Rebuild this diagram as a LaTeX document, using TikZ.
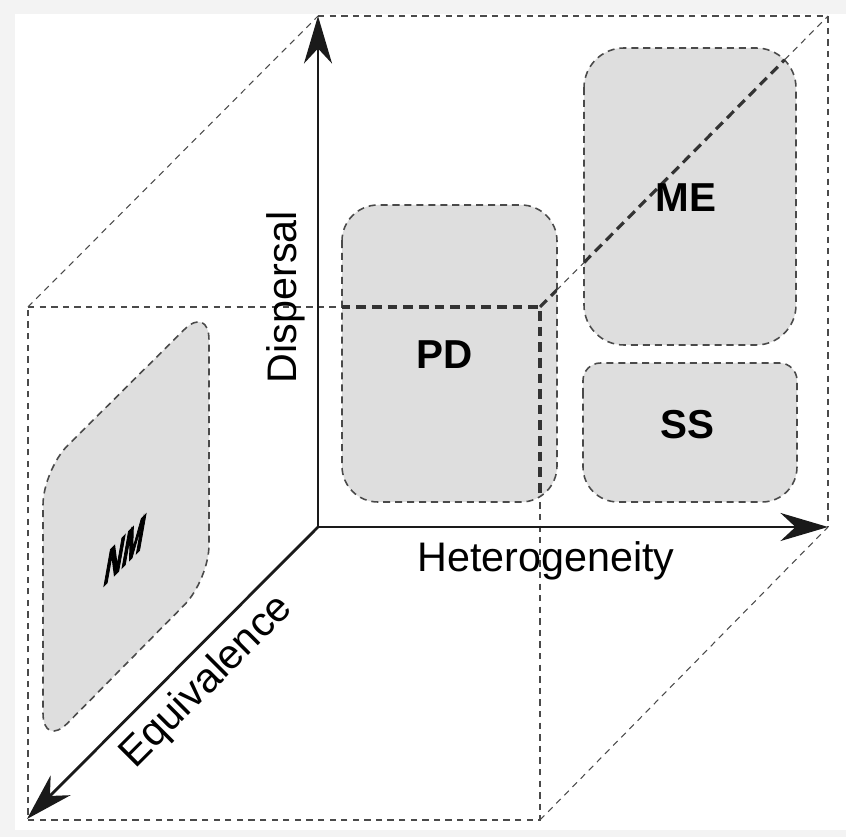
\documentclass[tikz,border=0pt]{standalone}
\usepackage{fontspec}
\setmainfont{Liberation Sans}
\newfontfamily\nmfont{Liberation Sans Bold}[FakeBold=4]
\usepackage{tikz}
\usetikzlibrary{arrows.meta,positioning}
\definecolor{NicheGray}{HTML}{DEDEDE}
\definecolor{NicheEdge}{HTML}{4A4A4A}
\definecolor{NicheDash}{HTML}{333333}
\definecolor{NicheAxis}{HTML}{1A1A1A}
\definecolor{NicheBg}{HTML}{F3F3F3}

\tikzset{
  cube/.style={NicheEdge, line width=0.6pt, dash pattern=on 3.6pt off 3pt},
  cubefront/.style={NicheDash, line width=1.8pt, dash pattern=on 5.5pt off 3.4pt},
  region/.style={fill=NicheGray, draw=NicheEdge, line width=0.9pt, dash pattern=on 4pt off 2.8pt},
  axis/.style={NicheAxis, line width=1.6pt, -{Stealth[length=0.95cm, width=0.56cm, inset=0.3cm]}},
  axislabel/.style={font=\fontsize{23.5}{28}\selectfont},
  regionlabel/.style={font=\fontsize{23}{27}\selectfont\bfseries}
}

\begin{document}
\begin{tikzpicture}[x=0.02cm, y=-0.02cm]
\useasboundingbox (0,0) rectangle (846,837);
\fill[NicheBg] (0,0) rectangle (846,837);
\fill[white] (15,14) rectangle (846,830);

% Corners of the dashed cube
\coordinate (o) at (318,527);
\coordinate (btl) at (318,16);
\coordinate (btr) at (828,16);
\coordinate (bbr) at (828,527);
\coordinate (ftl) at (28,307);
\coordinate (ftr) at (540,307);
\coordinate (fbl) at (28,820);
\coordinate (fbr) at (540,820);

% Thin dashed edges
\draw[cube] (btl) -- (btr) -- (bbr);
\draw[cube] (ftl) -- (ftr) -- (fbr) -- (fbl) -- cycle;
\draw[cube] (ftl) -- (btl);
\draw[cube] (ftr) -- (btr);
\draw[cube] (fbr) -- (bbr);

% Regions - rounded boxes
\foreach \xa/\ya/\xb/\yb/\r in {
  342/205/557/502/0.72cm,
  584/48/796/345/0.8cm}
{
  \draw[region, rounded corners=\r] (\xa,\ya) rectangle (\xb,\yb);
  \begin{scope}
    \clip[rounded corners=\r] (\xa,\ya) rectangle (\xb,\yb);
    \draw[cubefront] (ftl) -- (ftr) -- (fbr);
    \draw[cubefront] (ftr) -- (btr);
  \end{scope}
}
\draw[region] (583,430) [rounded corners=0.35cm] -- (583,363) -- (797,363) -- (797,430)
  [rounded corners=0.7cm] -- (797,502) -- (583,502) -- cycle;
\draw[region, rounded corners=0.7cm] (43,600) -- (43,470) -- (209,305) -- (209,580) -- (43,748) -- cycle;

% Draw axes
\coordinate (dtip) at (318,16);
\coordinate (htip) at (828,527);
\coordinate (etip) at (27,819);
\draw[axis] (o) -- (dtip);
\draw[axis] (o) -- (htip);
\draw[axis] (o) -- (etip);

% Axis labels
\node[axislabel, rotate=90] (disp) at (286,297) {Dispersal};
\node[axislabel, anchor=base] (het) at (546,572) {Heterogeneity};
\node[axislabel, rotate=45] (equiv) at (207,682) {Equivalence};

% Region labels
\node[regionlabel] (pd) at (445,355) {PD};
\node[regionlabel] (me) at (686,198) {ME};
\node[regionlabel] (ss) at (687,425) {SS};
\node[font=\fontsize{23}{27}\selectfont\nmfont, cm={0.62,0.62,0.23,1.3,(0,0)}] (nm) at (125,550) {NM};
\end{tikzpicture}
\end{document}
